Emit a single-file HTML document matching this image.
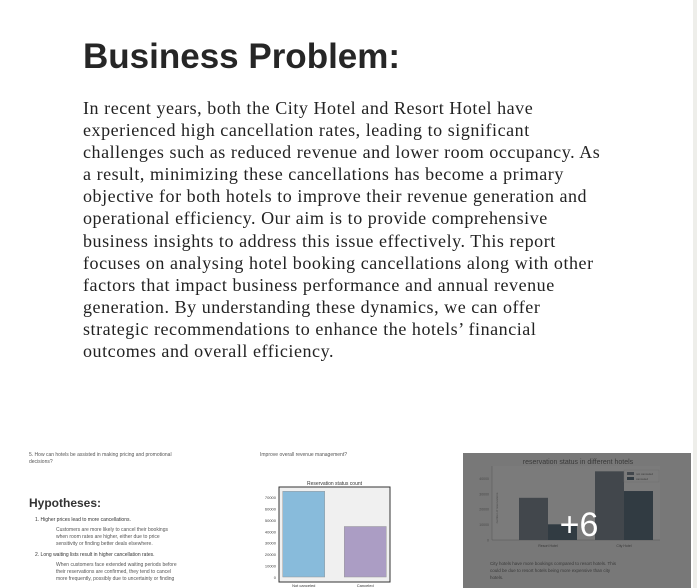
<!DOCTYPE html>
<html><head><meta charset="utf-8"><style>
body{margin:0;width:697px;height:588px;overflow:hidden;background:#fff;font-family:"Liberation Sans",sans-serif;position:relative}
#h{position:absolute;left:83px;top:37px;font-size:35px;font-weight:bold;color:#262626;letter-spacing:0px}
#p{position:absolute;left:83px;top:97px;width:560px;font-family:"Liberation Serif",serif;font-size:18px;letter-spacing:0.55px;line-height:22.1px;color:#222}
#p div{white-space:nowrap}
.strip{position:absolute;left:693px;top:0;width:4px;height:588px;background:#eeeeea}
.t{position:absolute;color:#555;font-size:5px;white-space:nowrap}
</style></head><body>
<div class="strip"></div>
<div id="h">Business Problem:</div>
<div id="p">
<div>In recent years, both the City Hotel and Resort Hotel have</div>
<div>experienced high cancellation rates, leading to significant</div>
<div>challenges such as reduced revenue and lower room occupancy. As</div>
<div>a result, minimizing these cancellations has become a primary</div>
<div>objective for both hotels to improve their revenue generation and</div>
<div>operational efficiency. Our aim is to provide comprehensive</div>
<div>business insights to address this issue effectively. This report</div>
<div>focuses on analysing hotel booking cancellations along with other</div>
<div>factors that impact business performance and annual revenue</div>
<div>generation. By understanding these dynamics, we can offer</div>
<div>strategic recommendations to enhance the hotels’ financial</div>
<div>outcomes and overall efficiency.</div>
</div>

<div>
<div class="t" style="left:29px;top:452px">5. How can hotels be assisted in making pricing and promotional</div>
<div class="t" style="left:29px;top:459px">decisions?</div>
<div style="position:absolute;left:29px;top:496px;font-size:12px;font-weight:bold;color:#333">Hypotheses:</div>
<div class="t" style="left:35px;top:517px;color:#333">1. Higher prices lead to more cancellations.</div>
<div class="t" style="left:56px;top:527px">Customers are more likely to cancel their bookings</div>
<div class="t" style="left:56px;top:534px">when room rates are higher, either due to price</div>
<div class="t" style="left:56px;top:541px">sensitivity or finding better deals elsewhere.</div>
<div class="t" style="left:35px;top:552px;color:#333">2. Long waiting lists result in higher cancellation rates.</div>
<div class="t" style="left:56px;top:562px">When customers face extended waiting periods before</div>
<div class="t" style="left:56px;top:569px">their reservations are confirmed, they tend to cancel</div>
<div class="t" style="left:56px;top:576px">more frequently, possibly due to uncertainty or finding</div>
</div>

<div class="t" style="left:260px;top:452px">Improve overall revenue management?</div>
<svg id="c1" style="position:absolute;left:0;top:0" width="697" height="588"></svg>
<svg id="c2" style="position:absolute;left:0;top:0" width="697" height="588"></svg>
<script>
const NS="http://www.w3.org/2000/svg";
function mk(p,tag,a,txt){const e=document.createElementNS(NS,tag);for(const k in a)e.setAttribute(k,a[k]);if(txt!==undefined)e.textContent=txt;p.appendChild(e);return e;}
// chart 1
const cats1=["Not canceled","Canceled"];
const vals1=[75000,44200];
const ticks1=[0,10000,20000,30000,40000,50000,60000,70000];
const colors1=["#88bbdb","#ab9dc4"];
(function(){
const s=document.getElementById('c1');
const L=279,R=390,T=487,B=577;const y=v=>B-v/70000*80;
const bg=mk(s,'rect',{x:L,y:T,width:R-L,height:95,fill:'#f0f0f0',stroke:'#333','stroke-width':1});

const ti=mk(s,'text',{x:(L+R)/2,y:485,'font-size':5,'text-anchor':'middle',fill:'#333'},'Reservation status count');

ticks1.forEach(t=>{const e=mk(s,'text',{x:276,y:y(t)+2,'font-size':4,'text-anchor':'end',fill:'#444'},String(t));
});
const bw=42,step=(R-L)/2;
vals1.forEach((v,i)=>{const cx=L+step*(i+0.5)+(i?3:-3);
const b=mk(s,'rect',{x:cx-bw/2,y:y(v),width:bw,height:B-y(v),fill:colors1[i],stroke:'#999','stroke-width':0.5});

const l=mk(s,'text',{x:cx,y:587,'font-size':4,'text-anchor':'middle',fill:'#333'},cats1[i]);
});
})();
// chart 2
const hotels=["Resort Hotel","City Hotel"];
const notCanceled=[27400,44600];
const canceled=[10200,31800];
const ticks2=[0,10000,20000,30000,40000];
(function(){
const s=document.getElementById('c2');
const bg=mk(s,'rect',{x:463,y:453,width:228,height:135,fill:'#f4f4f4'});

const L=492,R=660,B=540;const y=v=>B-v/10000*15.4;
mk(s,'rect',{x:L,y:466,width:R-L,height:B-466,fill:'#fff'});
const ti=mk(s,'text',{x:578,y:464,'font-size':7,'text-anchor':'middle',fill:'#333'},'reservation status in different hotels');

mk(s,'line',{x1:L,y1:466,x2:L,y2:B,stroke:'#888','stroke-width':0.5});
mk(s,'line',{x1:L,y1:B,x2:R,y2:B,stroke:'#888','stroke-width':0.5});
ticks2.forEach(t=>{const e=mk(s,'text',{x:L-3,y:y(t)+1.5,'font-size':3.5,'text-anchor':'end',fill:'#666'},String(t));
});
const centers=[548,624],bw=29;
hotels.forEach((h,i)=>{
const a=mk(s,'rect',{x:centers[i]-bw,y:y(notCanceled[i]),width:bw,height:B-y(notCanceled[i]),fill:'#4f5e6c'});

const c=mk(s,'rect',{x:centers[i],y:y(canceled[i]),width:bw,height:B-y(canceled[i]),fill:'#1b3850'});

const l=mk(s,'text',{x:centers[i],y:547,'font-size':3.5,'text-anchor':'middle',fill:'#333'},h);
});
mk(s,'text',{x:498,y:508,'font-size':3,fill:'#666',transform:'rotate(-90 498 508)','text-anchor':'middle'},'number of reservations');
mk(s,'rect',{x:624,y:470,width:35,height:12,fill:'#fff',stroke:'#ccc','stroke-width':0.4});
mk(s,'rect',{x:627,y:472,width:7,height:3,fill:'#4f5e6c'});
mk(s,'rect',{x:627,y:477,width:7,height:3,fill:'#1b3850'});
mk(s,'text',{x:636,y:475,'font-size':3,fill:'#333'},'not canceled');
mk(s,'text',{x:636,y:480,'font-size':3,fill:'#333'},'canceled');
['City hotels have more bookings compared to resort hotels. This','could be due to resort hotels being more expensive than city','hotels.'].forEach((t,i)=>mk(s,'text',{x:490,y:565+i*7,'font-size':4.5,fill:'#333'},t));
const ov=mk(s,'rect',{x:463,y:453,width:228,height:135,fill:'rgba(60,60,60,0.68)'});

const pl=mk(s,'text',{x:579,y:536,'font-size':34,'text-anchor':'middle',fill:'#fff','font-family':'Liberation Sans'},'+6');

})();
</script>
</body></html>
